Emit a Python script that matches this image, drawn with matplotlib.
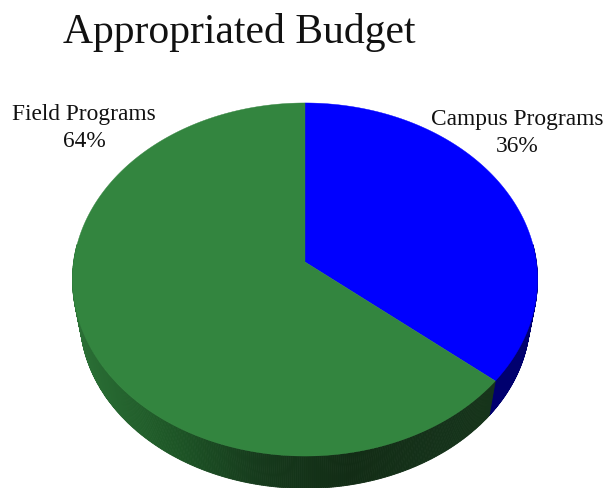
import numpy as np
import matplotlib
matplotlib.use("Agg")
import matplotlib.pyplot as plt
from matplotlib.colors import LinearSegmentedColormap

title = "Appropriated Budget"
categories = ["Campus Programs", "Field Programs"]
shares = [36, 64]

top_colors = ["#0000ff", "#33853f"]

# rim shading, left to right across the front of the pie
green_wall = LinearSegmentedColormap.from_list(
    "green_wall", ["#2b7036", "#1e5827", "#163a1c", "#122c15", "#15321a", "#17361b"]
)
blue_wall = LinearSegmentedColormap.from_list("blue_wall", ["#00006e", "#00006e"])
wall_maps = [blue_wall, green_wall]

plt.rcParams["font.family"] = ["Liberation Serif", "DejaVu Serif"]

fig = plt.figure(figsize=(6.05, 4.88), dpi=100)
ax = fig.add_axes([0, 0, 1, 1])
ax.set_xlim(0, 605)
ax.set_ylim(488, 0)
ax.axis("off")

# the disc is tilted, so the centre of the slices sits above the ellipse centre
cx, cy = 305, 280
apex_y = 262
k = 35 / 353
A = 232.5 * np.sqrt(1 - k**2)
B = 174.8


def face_point(theta):
    u, v = np.cos(theta), np.sin(theta)
    w = 1 + k * v
    return cx + A * u / w, apex_y - B * v / w


def rim_point(theta):
    x, y = face_point(theta)
    return cx + 0.9677 * (x - cx), cy + 38 + 0.9677 * (y - cy)


# slice edges, clockwise from 12 o'clock
edges = np.pi / 2 - 2 * np.pi * np.cumsum([0] + shares) / sum(shares)

# rim first, the top face covers whatever is left over
for i in range(len(shares)):
    th = np.linspace(edges[i], edges[i + 1], 500)
    for a, b in zip(th[:-1], th[1:]):
        if np.sin(a) > 0.1 and np.sin(b) > 0.1:
            continue
        x1, y1 = face_point(a)
        x2, y2 = face_point(b)
        x3, y3 = rim_point(b)
        x4, y4 = rim_point(a)
        c = wall_maps[i](np.clip((x1 - 72) / 465, 0, 1))
        ax.fill([x1, x2, x3, x4], [y1, y2, y3, y4], color=c, lw=0.6)

# top face
for i in range(len(shares)):
    th = np.linspace(edges[i], edges[i + 1], 400)
    xs, ys = face_point(th)
    ax.fill(
        np.r_[cx, xs],
        np.r_[apex_y, ys],
        color=top_colors[i],
        lw=0.3,
    )

ax.text(63, 43, title, fontsize=30, color="#111111", ha="left", va="baseline")

ax.text(84, 120, categories[1], fontsize=16.8, color="#111111", ha="center", va="baseline")
ax.text(84, 147, f"{shares[1]}%", fontsize=16.8, color="#111111", ha="center", va="baseline")
ax.text(517, 125, categories[0], fontsize=16.8, color="#111111", ha="center", va="baseline")
ax.text(517, 152, f"{shares[0]}%", fontsize=16.8, color="#111111", ha="center", va="baseline")

fig.savefig("out.png", dpi=100)
